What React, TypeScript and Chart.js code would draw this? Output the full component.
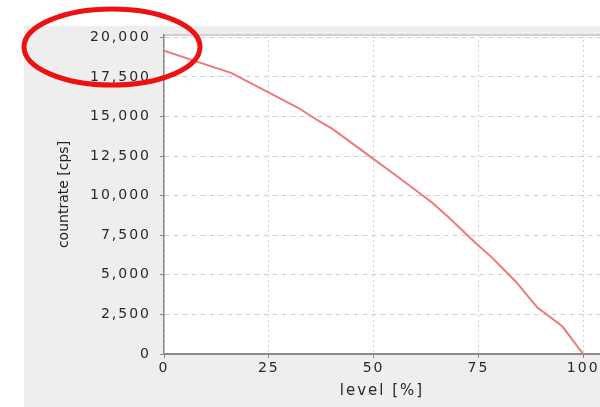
import React, { useEffect, useRef } from "react";
import { Chart, registerables } from "chart.js";

Chart.register(...registerables);

const levels = [0, 8, 16, 24, 32, 37, 40, 48, 56, 64, 68, 74, 78, 84, 89, 95, 100];
const countrate = [19150, 18450, 17750, 16650, 15550, 14700, 14250, 12700, 11150, 9550, 8600, 7090, 6150, 4550, 2950, 1750, 0];
const xTicks = [0, 25, 50, 75, 100];
const yTicks = [0, 2500, 5000, 7500, 10000, 12500, 15000, 17500, 20000];
const xTitle = "level [%]";
const yTitle = "countrate [cps]";

function withSpacing(scale: any, name: string, spacing: string) {
  if (scale.__patched && scale.__patched[name]) return;
  scale.__patched = scale.__patched || {};
  scale.__patched[name] = true;
  const orig = scale[name].bind(scale);
  scale[name] = (...args: any[]) => {
    const ctx = scale.ctx;
    ctx.save();
    (ctx as any).letterSpacing = spacing;
    orig(...args);
    ctx.restore();
  };
}

const bgPlugin = {
  id: "bgPlugin",
  afterLayout(chart: any) {
    withSpacing(chart.scales.x, "drawLabels", "2px");
    withSpacing(chart.scales.y, "drawLabels", "2px");
    withSpacing(chart.scales.x, "drawTitle", "2px");
    withSpacing(chart.scales.y, "drawTitle", "0px");
  },
  beforeDraw(chart: any) {
    const { ctx, chartArea } = chart;
    ctx.save();
    ctx.fillStyle = "#ffffff";
    ctx.fillRect(0, 0, chart.width, chart.height);
    ctx.fillStyle = "#eeeeee";
    ctx.fillRect(24, 26, chart.width - 24, chart.height - 26);
    ctx.fillStyle = "#ffffff";
    ctx.fillRect(chartArea.left, chartArea.top, chartArea.right - chartArea.left, chartArea.bottom - chartArea.top);
    ctx.strokeStyle = "#c4c4c4";
    ctx.lineWidth = 1.5;
    ctx.beginPath();
    ctx.moveTo(chartArea.left, chartArea.top);
    ctx.lineTo(chartArea.right, chartArea.top);
    ctx.stroke();
    ctx.restore();
  },
  afterDraw(chart: any) {
    const { ctx } = chart;
    ctx.save();
    ctx.strokeStyle = "#ee1111";
    ctx.lineWidth = 5;
    ctx.beginPath();
    ctx.ellipse(112, 47, 88, 38, 0, 0, Math.PI * 2);
    ctx.stroke();
    ctx.restore();
  },
};

export default function App() {
  const ref = useRef<HTMLCanvasElement>(null);
  useEffect(() => {
    document.body.style.margin = "0";
    const canvas = ref.current!;
    const chart = new Chart(canvas, {
      type: "line",
      data: {
        datasets: [
          {
            data: levels.map((x, i) => ({ x, y: countrate[i] })),
            borderColor: "#f07878",
            borderWidth: 2,
            pointRadius: 0,
            fill: false,
            tension: 0,
          },
        ],
      },
      options: {
        animation: false,
        responsive: false,
        events: [],
        layout: { padding: { top: 35, left: 0, right: 0, bottom: 0 } },
        plugins: { legend: { display: false }, tooltip: { enabled: false } },
        scales: {
          x: {
            type: "linear",
            min: 0,
            max: 104,
            afterBuildTicks: (s: any) => {
              s.ticks = xTicks.map((v) => ({ value: v }));
            },
            afterFit: (s: any) => {
              s.height = 53;
              s.paddingLeft = 0;
              s.paddingRight = 0;
            },
            ticks: {
              color: "#2a2a2a",
              font: { family: "DejaVu Sans", size: 14 },
              padding: 2,
              maxRotation: 0,
              autoSkip: false,
            },
            grid: {
              color: "#d0d0d0",
              lineWidth: 1,
              tickLength: 4,
              tickColor: "#888888",
            },
            border: { color: "#8a8a8a", width: 2, dash: [2, 3] },
            title: {
              display: true,
              text: xTitle,
              color: "#2a2a2a",
              font: { family: "DejaVu Sans", size: 15 },
              padding: { top: 0, bottom: 7 },
            },
          },
          y: {
            type: "linear",
            min: 0,
            max: 20145,
            afterBuildTicks: (s: any) => {
              s.ticks = yTicks.map((v) => ({ value: v }));
            },
            afterFit: (s: any) => {
              s.width = 164;
            },
            ticks: {
              color: "#2a2a2a",
              font: { family: "DejaVu Sans", size: 14 },
              padding: 9,
              callback: (v: any) => Number(v).toLocaleString("en-US"),
            },
            grid: {
              color: "#d0d0d0",
              lineWidth: 1,
              tickLength: 4,
              tickColor: "#888888",
            },
            border: { color: "#8a8a8a", width: 1.5, dash: [5, 4] },
            title: {
              display: true,
              text: yTitle,
              color: "#222222",
              font: { family: "DejaVu Sans", size: 14 },
              padding: { top: 56, bottom: 0 },
            },
          },
        },
      },
      plugins: [bgPlugin],
    } as any);
    return () => chart.destroy();
  }, []);
  return <canvas ref={ref} width={600} height={407} style={{ display: "block" }} />;
}
